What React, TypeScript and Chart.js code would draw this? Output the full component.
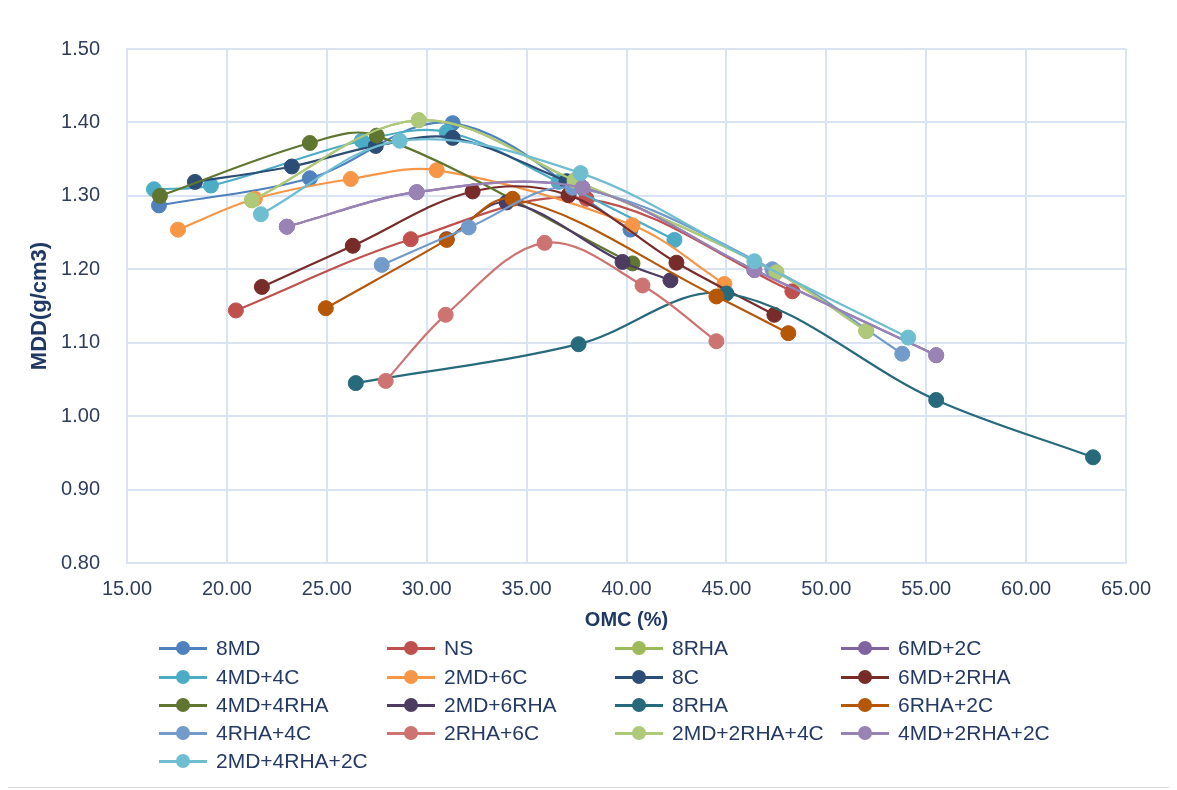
import React, { useEffect, useRef } from "react";
import { Chart, registerables } from "chart.js";

Chart.register(...registerables);

// ---- Data (OMC %, MDD g/cm3) ----
const seriesNames = [
  "8MD", "NS", "8RHA", "6MD+2C",
  "4MD+4C", "2MD+6C", "8C", "6MD+2RHA",
  "4MD+4RHA", "2MD+6RHA", "8RHA", "6RHA+2C",
  "4RHA+4C", "2RHA+6C", "2MD+2RHA+4C", "4MD+2RHA+2C",
  "2MD+4RHA+2C",
];

const seriesColors = [
  "#4F81BD", "#C0504D", "#9BBB59", "#8064A2",
  "#4BACC6", "#F79646", "#2C4D75", "#772C2A",
  "#5F7530", "#4D3B62", "#276A7C", "#B65708",
  "#729ACA", "#CD7371", "#AFC97A", "#9983B5",
  "#6FBDD1",
];

const omc8MD = [16.6, 24.15, 31.3, 40.2];
const mdd8MD = [1.287, 1.324, 1.399, 1.254];

const omcNS = [20.45, 29.2, 38.0, 48.3];
const mddNS = [1.144, 1.241, 1.296, 1.17];

const omc8RHAa = [21.25, 29.6, 37.4, 47.5, 52.0];
const mdd8RHAa = [1.294, 1.403, 1.321, 1.196, 1.116];

const omc6MD2C = [23.0, 29.5, 37.8, 46.4, 55.5];
const mdd6MD2C = [1.258, 1.305, 1.311, 1.199, 1.083];

const omc4MD4C = [16.35, 19.2, 26.75, 31.0, 36.6, 42.4];
const mdd4MD4C = [1.309, 1.314, 1.375, 1.387, 1.319, 1.24];

const omc2MD6C = [17.55, 21.4, 26.2, 30.5, 40.3, 44.9];
const mdd2MD6C = [1.254, 1.296, 1.323, 1.335, 1.26, 1.18];

const omc8C = [18.4, 23.25, 27.45, 31.3, 37.0];
const mdd8C = [1.319, 1.34, 1.368, 1.379, 1.32];

const omc6MD2RHA = [21.75, 26.3, 32.3, 37.1, 42.5, 47.4];
const mdd6MD2RHA = [1.176, 1.232, 1.306, 1.301, 1.209, 1.138];

const omc4MD4RHA = [16.65, 24.15, 27.5, 40.3];
const mdd4MD4RHA = [1.3, 1.372, 1.382, 1.208];

const omc2MD6RHA = [31.0, 34.0, 39.8, 42.2];
const mdd2MD6RHA = [1.241, 1.291, 1.21, 1.185];

const omc8RHAb = [26.45, 37.6, 45.0, 55.5, 63.35];
const mdd8RHAb = [1.045, 1.098, 1.167, 1.022, 0.944];

const omc6RHA2C = [24.95, 31.0, 34.3, 44.5, 48.1];
const mdd6RHA2C = [1.147, 1.24, 1.296, 1.163, 1.113];

const omc4RHA4C = [27.75, 32.1, 37.3, 47.3, 53.8];
const mdd4RHA4C = [1.206, 1.257, 1.311, 1.2, 1.085];

const omc2RHA6C = [27.95, 30.95, 35.9, 40.8, 44.5];
const mdd2RHA6C = [1.048, 1.138, 1.236, 1.178, 1.102];

const omc2MD2RHA4C = [21.25, 29.6, 37.4, 47.5, 52.0];
const mdd2MD2RHA4C = [1.294, 1.403, 1.321, 1.196, 1.116];

const omc4MD2RHA2C = [23.0, 29.5, 37.8, 46.4, 55.5];
const mdd4MD2RHA2C = [1.258, 1.305, 1.311, 1.199, 1.083];

const omc2MD4RHA2C = [21.7, 28.65, 37.7, 46.4, 54.1];
const mdd2MD4RHA2C = [1.275, 1.375, 1.331, 1.211, 1.107];

const seriesOmc = [
  omc8MD, omcNS, omc8RHAa, omc6MD2C,
  omc4MD4C, omc2MD6C, omc8C, omc6MD2RHA,
  omc4MD4RHA, omc2MD6RHA, omc8RHAb, omc6RHA2C,
  omc4RHA4C, omc2RHA6C, omc2MD2RHA4C, omc4MD2RHA2C,
  omc2MD4RHA2C,
];
const seriesMdd = [
  mdd8MD, mddNS, mdd8RHAa, mdd6MD2C,
  mdd4MD4C, mdd2MD6C, mdd8C, mdd6MD2RHA,
  mdd4MD4RHA, mdd2MD6RHA, mdd8RHAb, mdd6RHA2C,
  mdd4RHA4C, mdd2RHA6C, mdd2MD2RHA4C, mdd4MD2RHA2C,
  mdd2MD4RHA2C,
];

const FONT = "'Liberation Sans', Arial, sans-serif";
const TICK_COLOR = "#2F3D5C";
const TITLE_COLOR = "#1F3864";
const LEGEND_COLOR = "#243A63";
const GRID_COLOR = "#D9E3F2";

const colLefts = [151, 379, 607, 833];
const rowCenters = [640, 669, 697, 725, 753];

export default function App() {
  const canvasRef = useRef<HTMLCanvasElement | null>(null);

  useEffect(() => {
    if (!canvasRef.current) return;
    const n = seriesNames.length;
    const datasets = seriesNames.map((name, i) => ({
      label: name,
      data: seriesOmc[i].map((x, k) => ({ x, y: seriesMdd[i][k] })),
      borderColor: seriesColors[i],
      backgroundColor: seriesColors[i],
      pointBackgroundColor: seriesColors[i],
      pointBorderColor: seriesColors[i],
      pointBorderWidth: 1,
      pointRadius: 7.5,
      borderWidth: 2.2,
      showLine: true,
      tension: 0.35,
      order: n - i,
    }));

    const chart = new Chart(canvasRef.current, {
      type: "scatter",
      data: { datasets },
      options: {
        animation: false,
        responsive: false,
        devicePixelRatio: 1,
        layout: { padding: { left: 0, right: 42, top: 41, bottom: 150 } },
        plugins: { legend: { display: false }, tooltip: { enabled: false } },
        scales: {
          x: {
            type: "linear",
            min: 15,
            max: 65,
            ticks: {
              stepSize: 5,
              callback: (v: any) => Number(v).toFixed(2),
              font: { family: FONT, size: 20 },
              color: TICK_COLOR,
              padding: 14,
            },
            grid: { color: GRID_COLOR, lineWidth: 2, drawTicks: false },
            border: { color: GRID_COLOR, width: 2 },
            title: {
              display: true,
              text: "OMC (%)",
              font: { family: FONT, size: 20, weight: "bold" },
              color: TITLE_COLOR,
              padding: { top: 0, bottom: 6 },
            },
            afterFit: (s: any) => {
              s.height = 75;
            },
          },
          y: {
            type: "linear",
            min: 0.8,
            max: 1.5,
            ticks: {
              stepSize: 0.1,
              callback: (v: any) => Number(v).toFixed(2),
              font: { family: FONT, size: 20 },
              color: TICK_COLOR,
              padding: 27,
            },
            grid: { color: GRID_COLOR, lineWidth: 2, drawTicks: false },
            border: { color: GRID_COLOR, width: 2 },
            title: {
              display: true,
              text: "MDD(g/cm3)",
              font: { family: FONT, size: 22, weight: "bold" },
              color: TITLE_COLOR,
              padding: { top: 19, bottom: 0 },
            },
            afterFit: (s: any) => {
              s.width = 119;
            },
          },
        },
      },
    });
    return () => chart.destroy();
  }, []);

  return (
    <div
      style={{
        position: "relative",
        width: 1162,
        height: 779,
        borderRight: "1px solid #D9D9D9",
        borderBottom: "1px solid #D9D9D9",
        background: "#FFFFFF",
      }}
    >
      <canvas
        ref={canvasRef}
        width={1160}
        height={780}
        style={{ position: "absolute", left: 0, top: 0, width: 1160, height: 780 }}
      />
      {seriesNames.map((name, i) => {
        const col = i % 4;
        const row = Math.floor(i / 4);
        const left = colLefts[col];
        const cy = rowCenters[row];
        const color = seriesColors[i];
        return (
          <div
            key={i}
            style={{ position: "absolute", left, top: cy - 14, height: 28, display: "flex", alignItems: "center" }}
          >
            <div style={{ position: "relative", width: 48, height: 28 }}>
              <div
                style={{ position: "absolute", left: 0, top: 13, width: 48, height: 2.5, background: color }}
              />
              <div
                style={{
                  position: "absolute",
                  left: 17,
                  top: 7,
                  width: 14,
                  height: 14,
                  borderRadius: "50%",
                  background: color,
                }}
              />
            </div>
            <span
              style={{
                marginLeft: 9,
                fontFamily: FONT,
                fontSize: 21,
                color: LEGEND_COLOR,
                whiteSpace: "nowrap",
                lineHeight: "28px",
              }}
            >
              {name}
            </span>
          </div>
        );
      })}
    </div>
  );
}
